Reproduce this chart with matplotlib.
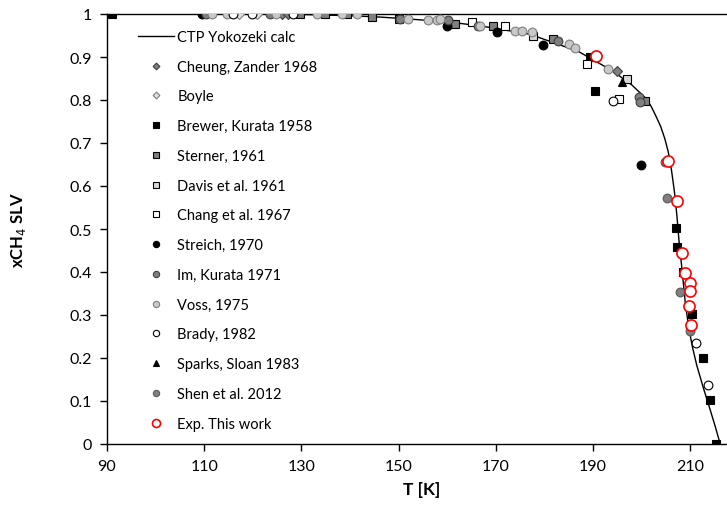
import matplotlib.pyplot as plt
import numpy as np

plt.rcParams['font.family'] = ['Lato', 'DejaVu Sans']

# CTP Yokozeki calculated curve
calc_T = [90, 120, 130, 140, 146, 150, 160, 167, 177, 187, 194, 198, 201, 202, 203,
          204, 204.8, 205.5, 206.2, 206.8, 207.3, 207.7, 208.3, 209, 209.7, 210.5,
          211.4, 212.8, 214.1, 215.2, 216.2]
calc_x = [1.0, 1.0, 0.999, 0.996, 0.993, 0.99, 0.982, 0.972, 0.953, 0.913, 0.868, 0.835, 0.803, 0.785, 0.762,
          0.737, 0.71, 0.68, 0.635, 0.585, 0.53, 0.475, 0.41, 0.33, 0.272, 0.225,
          0.182, 0.128, 0.081, 0.04, 0.0]

# experimental series (T [K], xCH4)
cheung_T = [126.0, 127.3, 194.9]
cheung_x = [1.0, 1.0, 0.868]
boyle_T = [117.2, 120.8]
boyle_x = [1.0, 1.0]
brewer_T = [91.0, 189.4, 190.4, 207.1, 207.4, 208.6, 210.3, 212.6, 214.1, 215.4]
brewer_x = [1.0, 0.899, 0.822, 0.502, 0.459, 0.400, 0.302, 0.200, 0.103, 0.0]
sterner_T = [129.7, 134.9, 139.3, 144.5, 150.0, 161.6, 169.5, 181.8, 200.7]
sterner_x = [1.0, 1.0, 1.0, 0.992, 0.988, 0.977, 0.973, 0.942, 0.798]
davis_T = [177.7, 197.1]
davis_x = [0.95, 0.849]
chang_T = [165.1, 171.9, 188.7, 195.3]
chang_x = [0.981, 0.973, 0.884, 0.802]
streich_T = [109.5, 159.9, 170.2, 179.8, 199.9]
streich_x = [1.0, 0.973, 0.957, 0.928, 0.649]
im_T = [110.4, 123.6, 150.3, 160.2, 166.4, 182.9, 199.4, 199.7]
im_x = [1.0, 1.0, 0.988, 0.985, 0.973, 0.938, 0.807, 0.795]
voss_T = [111.6, 114.6, 124.8, 133.2, 138.3, 141.4, 152.0, 156.1, 157.9, 158.5, 166.8,
          174.0, 175.4, 177.4, 185.0, 186.3, 193.2]
voss_x = [1.0, 1.0, 1.0, 1.0, 1.0, 1.0, 0.988, 0.987, 0.987, 0.988, 0.973,
          0.961, 0.961, 0.957, 0.93, 0.922, 0.872]
brady_T = [115.9, 119.8, 128.3, 194.2, 211.2, 213.6]
brady_x = [1.0, 1.0, 1.0, 0.798, 0.234, 0.137]
sparks_T = [195.9]
sparks_x = [0.841]
shen_T = [204.9, 205.2, 208.0, 209.9]
shen_x = [0.656, 0.572, 0.353, 0.262]
exp_T = [190.6, 205.5, 207.3, 208.3, 209.0, 209.9, 209.9, 209.7, 210.1]
exp_x = [0.903, 0.659, 0.566, 0.444, 0.397, 0.374, 0.355, 0.322, 0.277]

fig = plt.figure(figsize=(7.27, 5.06), dpi=100)
ax = fig.add_axes([107/727, 61/506, 620/727, 430/506])

ax.plot(calc_T, calc_x, color='black', lw=1.0, label='CTP Yokozeki calc', zorder=2)

ms = 6.3
series = [
    (cheung_T, cheung_x, 'D', '#7f7f7f', '#404040', 4.8, 'Cheung, Zander 1968'),
    (boyle_T, boyle_x, 'D', '#e0e0e0', '#7f7f7f', 4.8, 'Boyle'),
    (brewer_T, brewer_x, 's', 'black', 'black', ms, 'Brewer, Kurata 1958'),
    (sterner_T, sterner_x, 's', '#7f7f7f', 'black', ms, 'Sterner, 1961'),
    (davis_T, davis_x, 's', '#d9d9d9', 'black', ms, 'Davis et al. 1961'),
    (chang_T, chang_x, 's', 'white', 'black', ms, 'Chang et al. 1967'),
    (streich_T, streich_x, 'o', 'black', 'black', ms, 'Streich, 1970'),
    (im_T, im_x, 'o', '#7f7f7f', '#404040', ms, 'Im, Kurata 1971'),
    (voss_T, voss_x, 'o', '#c8c8c8', '#7f7f7f', ms, 'Voss, 1975'),
    (brady_T, brady_x, 'o', 'white', 'black', ms, 'Brady, 1982'),
    (sparks_T, sparks_x, '^', 'black', 'black', ms, 'Sparks, Sloan 1983'),
    (shen_T, shen_x, 'o', '#808080', '#595959', ms, 'Shen et al. 2012'),
]
for T, x, mk, fc, ec, size, lab in series:
    ax.plot(T, x, ls='none', marker=mk, ms=size, mfc=fc, mec=ec, mew=0.8, label=lab, zorder=3)

ax.plot(exp_T, exp_x, ls='none', marker='o', ms=8, mfc='white', mec='red', mew=1.2,
        label='Exp. This work', zorder=4)

ax.set_xlim(90, 217.6)
ax.set_ylim(0, 1)
ax.set_xticks(np.arange(90, 211, 20))
ax.set_yticks(np.arange(0, 1.01, 0.1))
ax.set_yticklabels(['0', '0.1', '0.2', '0.3', '0.4', '0.5', '0.6', '0.7', '0.8', '0.9', '1'])
ax.tick_params(direction='out', length=5, width=1, labelsize=11.5, pad=6)
ax.spines['right'].set_visible(False)
for s in ['left', 'bottom', 'top']:
    ax.spines[s].set_linewidth(1.0)

ax.set_xlabel('T [K]', fontsize=12.5, fontweight='bold')
ax.xaxis.set_label_coords(0.508, -0.085)
ax.set_ylabel('xCH$_4$ SLV', fontsize=12, fontweight='bold')
ax.yaxis.set_label_coords(-(107-28)/620, 0.5)

ax.legend(loc='upper left', bbox_to_anchor=(0.05, 0.963), frameon=False, fontsize=10.5,
          labelspacing=1.08, handlelength=2.5, handletextpad=0.2, borderpad=0,
          borderaxespad=0, markerscale=0.72)

fig.savefig('out.png', dpi=100)
